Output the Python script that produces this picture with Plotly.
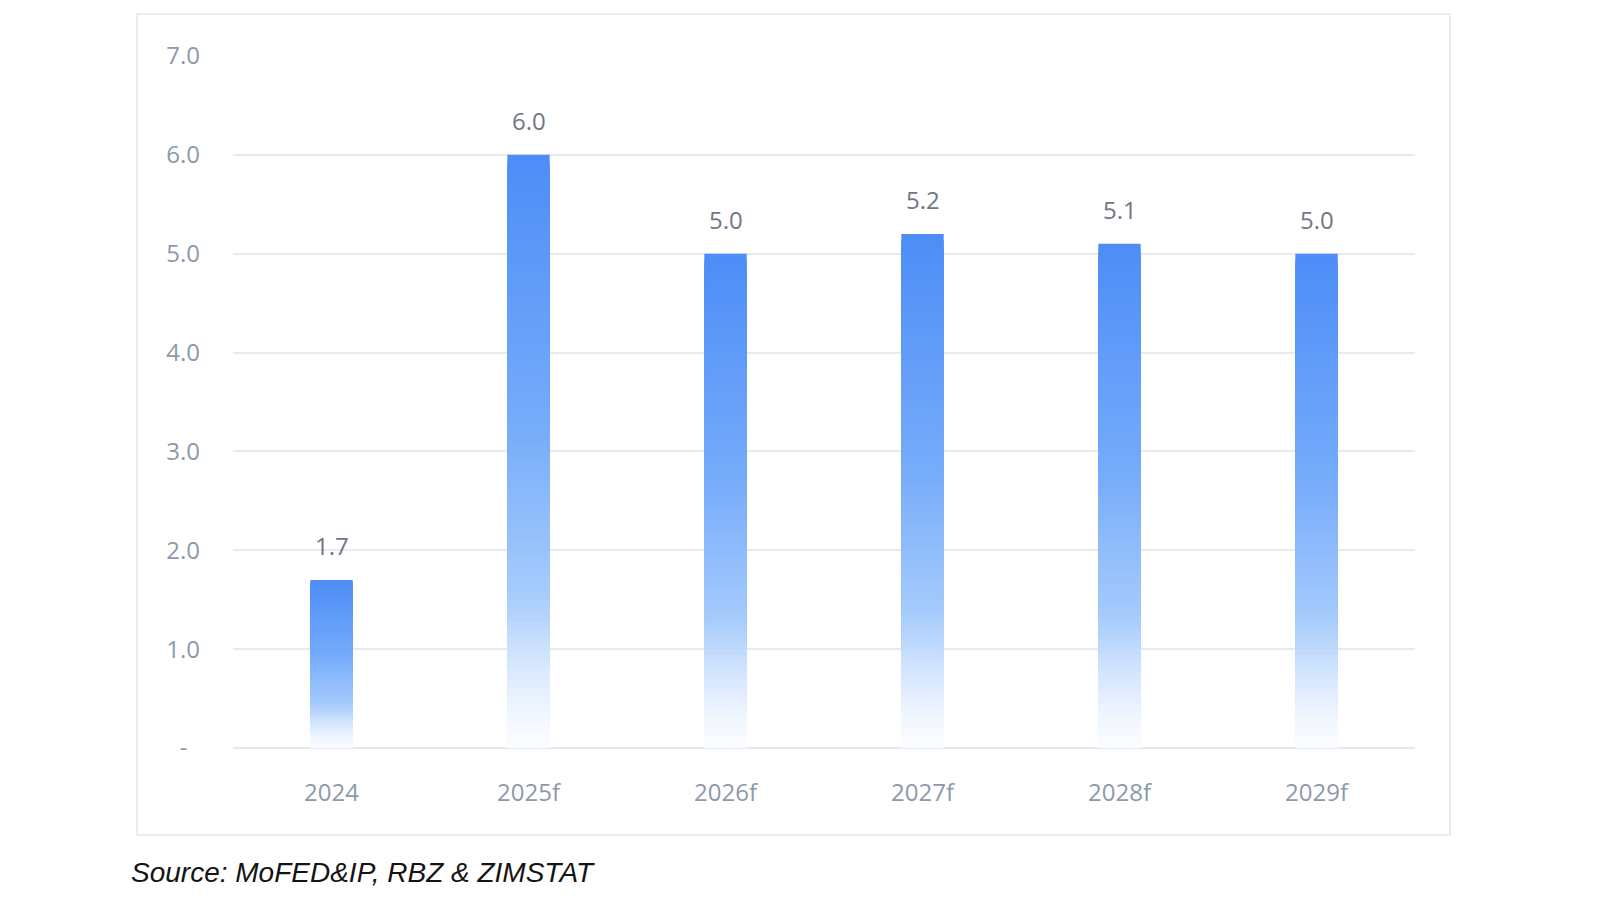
import plotly.graph_objects as go

categories = ["2024", "2025f", "2026f", "2027f", "2028f", "2029f"]
values = [1.7, 6.0, 5.0, 5.2, 5.1, 5.0]
y_ticks = [0, 1, 2, 3, 4, 5, 6, 7]
y_tick_labels = ["-\u00a0\u00a0", "1.0", "2.0", "3.0", "4.0", "5.0", "6.0", "7.0"]
source_text = "Source: MoFED&IP, RBZ & ZIMSTAT"

# gradient stops (fraction of bar height from bottom -> rgb)
stops = [
    (0.00, (252, 253, 255)),
    (0.07, (238, 245, 255)),
    (0.16, (208, 227, 253)),
    (0.26, (166, 203, 252)),
    (0.55, (117, 171, 250)),
    (1.00, (77, 141, 247)),
]


def grad(f):
    for (f0, c0), (f1, c1) in zip(stops[:-1], stops[1:]):
        if f0 <= f <= f1:
            t = (f - f0) / (f1 - f0) if f1 > f0 else 0
            return "rgb(%d,%d,%d)" % tuple(round(a + (b - a) * t) for a, b in zip(c0, c1))
    return "rgb(%d,%d,%d)" % stops[-1][1]


N = 80
fig = go.Figure()
for k in range(N, 0, -1):
    f = k / N
    fig.add_trace(go.Bar(
        x=categories,
        y=[v * f for v in values],
        marker=dict(color=grad((k - 0.5) / N), line=dict(width=0), opacity=1),
        width=0.215,
        hoverinfo="skip",
        showlegend=False,
    ))

for i, v in enumerate(values):
    fig.add_annotation(
        x=i, y=v, text=f"{v:.1f}", showarrow=False, yshift=34,
        font=dict(family="Open Sans", size=24, color="#6f7785"),
    )

fig.add_annotation(
    xref="paper", yref="paper", x=-0.0880, y=-0.1806, xanchor="left", yanchor="middle",
    text=f"<i>{source_text}</i>", showarrow=False,
    font=dict(family="Liberation Sans", size=28, color="#141414"),
)

# panel border
fig.add_shape(
    type="rect", xref="paper", yref="paper",
    x0=-0.0812, x1=1.0296, y0=-0.1257, y1=1.0607,
    line=dict(color="#eaeef4", width=2), fillcolor="rgba(0,0,0,0)", layer="below",
)

fig.update_layout(
    width=1600, height=900,
    margin=dict(l=233, r=185, t=56, b=152),
    paper_bgcolor="white", plot_bgcolor="white",
    barmode="overlay",
    font=dict(family="Open Sans", size=24, color="#8d99aa"),
)
fig.update_xaxes(
    type="category", categoryorder="array", categoryarray=categories,
    range=[-0.5, len(categories) - 0.5],
    showgrid=False, zeroline=False, showline=False,
    ticks="", ticklabelstandoff=28,
    tickfont=dict(family="Open Sans", size=24, color="#8d99aa"),
)
fig.update_yaxes(
    range=[0, 7], tickvals=y_ticks, ticktext=y_tick_labels,
    showgrid=True, gridcolor="#e7ebf0", gridwidth=2,
    zeroline=True, zerolinecolor="#e3e8ee", zerolinewidth=2,
    showline=False, ticks="", ticklabelstandoff=32,
    tickfont=dict(family="Open Sans", size=24, color="#8d99aa"),
)

fig.write_html("out.html")
